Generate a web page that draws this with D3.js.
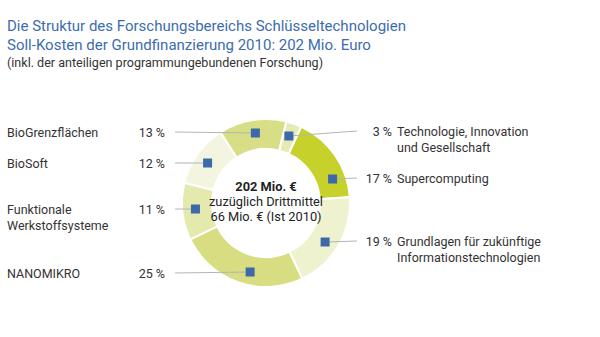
<!DOCTYPE html>
<html>
<head>
<meta charset="utf-8">
<script src="https://cdn.jsdelivr.net/npm/d3@7"></script>
<style>
  html, body { margin: 0; padding: 0; background: #fff; }
  svg { display: block; font-family: Roboto, "Liberation Sans", sans-serif; }
</style>
</head>
<body>
<svg id="chart" width="600" height="337"></svg>
<script>
// Research areas, clockwise from the top of the ring
const areas = [
  "Technologie, Innovation|und Gesellschaft",
  "Supercomputing",
  "Grundlagen für zukünftige|Informationstechnologien",
  "NANOMIKRO",
  "Funktionale|Werkstoffsysteme",
  "BioSoft",
  "BioGrenzflächen"
];
const shares = [3, 17, 19, 25, 11, 12, 13];           // percent of 202 Mio. €
const sides = ["right", "right", "right", "left", "left", "left", "left"];
const fills = ["#e6ebb6", "#c7d12c", "#eef2cf", "#d7dd80", "#e4e9ae", "#f3f5e1", "#d8de86"];
const markerRows = [136, 179, 242, 272, 209, 163, 133]; // y where each marker sits on the ring
const labelRows = [131, 178, 241, 273, 209, 163, 132];  // y of each label's leader line

const titleLines = [
  "Die Struktur des Forschungsbereichs Schlüsseltechnologien",
  "Soll-Kosten der Grundfinanzierung 2010: 202 Mio. Euro"
];
const subtitle = "(inkl. der anteiligen programmungebundenen Forschung)";
const centerLines = ["202 Mio. €", "zuzüglich Drittmittel", "66 Mio. € (Ist 2010)"];

const svg = d3.select("#chart");
const cx = 266, cy = 203, rOuter = 84, rInner = 54, rMark = 70.8;
const startAngle = 14 * Math.PI / 180;

// Titles
svg.selectAll("text.title").data(titleLines).join("text")
  .attr("class", "title")
  .attr("x", 7).attr("y", (d, i) => 31 + i * 19)
  .attr("font-size", 15).attr("fill", "#3d6cae")
  .text(d => d);
svg.append("text")
  .attr("x", 7).attr("y", 67)
  .attr("font-size", 12.55).attr("fill", "#333")
  .text(subtitle);

// Donut
const pie = d3.pie().sort(null).value(d => d)
  .startAngle(startAngle).endAngle(startAngle + 2 * Math.PI);
const arcs = pie(shares);
const arc = d3.arc().innerRadius(rInner).outerRadius(rOuter);

const g = svg.append("g").attr("transform", `translate(${cx},${cy})`);
g.selectAll("path").data(arcs).join("path")
  .attr("d", arc)
  .attr("fill", (d, i) => fills[i])
  .attr("stroke", "#fff").attr("stroke-width", 2);

// Marker for each slice: where its row meets the middle of the ring,
// taking the crossing closest to the slice's mid angle
const markers = arcs.map((a, i) => {
  const dy = markerRows[i] - cy;
  const dx = Math.sqrt(Math.max(0, rMark * rMark - dy * dy));
  const mid = (a.startAngle + a.endAngle) / 2;
  const cands = [dx, -dx].map(x => {
    let ang = Math.atan2(x, -dy);
    while (ang < startAngle) ang += 2 * Math.PI;
    return { x: cx + x, y: markerRows[i], d: Math.abs(ang - mid) };
  });
  cands.sort((p, q) => p.d - q.d);
  return cands[0];
});

// Leader lines
const lineEnd = (i) => ({ x: sides[i] === "left" ? 175 : 357, y: labelRows[i] });
svg.selectAll("line.leader").data(arcs).join("line")
  .attr("class", "leader")
  .attr("x1", (d, i) => lineEnd(i).x).attr("y1", (d, i) => lineEnd(i).y)
  .attr("x2", (d, i) => markers[i].x).attr("y2", (d, i) => markers[i].y)
  .attr("stroke", "#b4b4b4").attr("stroke-width", 1);

svg.selectAll("rect.marker").data(markers).join("rect")
  .attr("class", "marker")
  .attr("x", d => d.x - 4.5).attr("y", d => d.y - 4.5)
  .attr("width", 9).attr("height", 9)
  .attr("fill", "#3d68a9");

// Labels
arcs.forEach((a, i) => {
  const ly = labelRows[i] + 5;
  const names = areas[i].split("|");
  const left = sides[i] === "left";
  svg.append("text").attr("x", left ? 165 : 392).attr("y", ly)
    .attr("text-anchor", "end").attr("font-size", 12.5).attr("fill", "#333")
    .text(shares[i] + " %");
  names.forEach((n, k) => svg.append("text")
    .attr("x", left ? 7 : 397).attr("y", ly + k * 15.5)
    .attr("font-size", 12.5).attr("fill", "#333").text(n));
});

// Centre text
svg.selectAll("text.center").data(centerLines).join("text")
  .attr("class", "center")
  .attr("x", cx).attr("y", (d, i) => 191 + i * 15)
  .attr("text-anchor", "middle").attr("font-size", 12.8).attr("fill", "#222")
  .attr("font-weight", (d, i) => i === 0 ? "bold" : "normal")
  .text(d => d);
</script>
</body>
</html>
